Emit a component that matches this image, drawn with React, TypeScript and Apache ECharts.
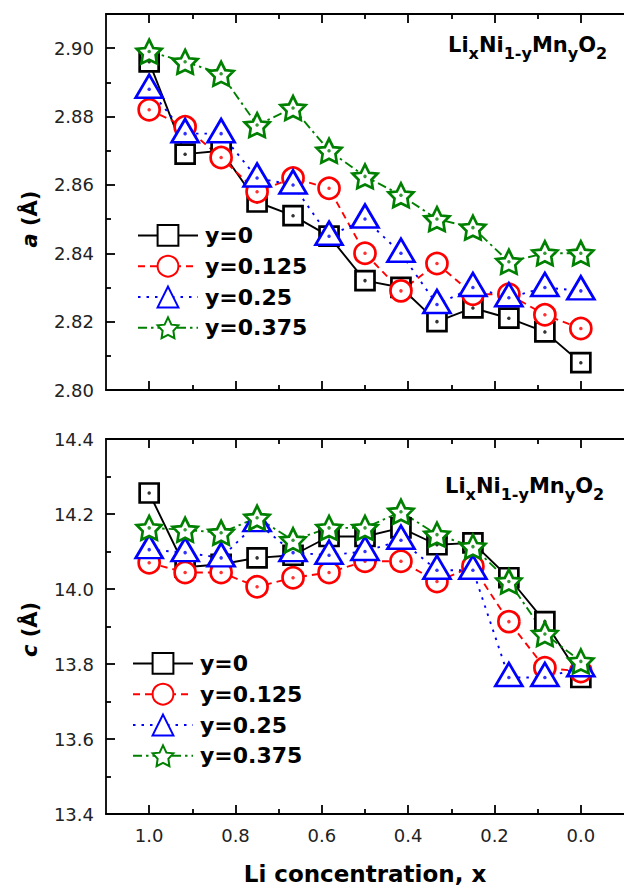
import React, { useEffect, useRef } from 'react';
import * as echarts from 'echarts';

// Li concentration x (1 - k/12)
const liConc = [1.0, 0.9167, 0.8333, 0.75, 0.6667, 0.5833, 0.5, 0.4167, 0.3333, 0.25, 0.1667, 0.0833, 0.0];

const seriesNames = ['y=0', 'y=0.125', 'y=0.25', 'y=0.375'];

// lattice parameter a (Å)
const aY0 = [2.896, 2.869, 2.870, 2.855, 2.851, 2.845, 2.832, 2.830, 2.820, 2.824, 2.821, 2.817, 2.808];
const aY0125 = [2.882, 2.877, 2.868, 2.858, 2.862, 2.859, 2.840, 2.829, 2.837, 2.828, 2.828, 2.822, 2.818];
const aY025 = [2.888, 2.875, 2.875, 2.862, 2.860, 2.845, 2.850, 2.840, 2.825, 2.830, 2.827, 2.830, 2.829];
const aY0375 = [2.899, 2.896, 2.8925, 2.8775, 2.8825, 2.870, 2.8625, 2.857, 2.850, 2.8475, 2.8375, 2.840, 2.840];

// lattice parameter c (Å)
const cY0 = [14.256, 14.058, 14.066, 14.083, 14.090, 14.140, 14.140, 14.163, 14.118, 14.123, 14.030, 13.913, 13.764];
const cY0125 = [14.070, 14.044, 14.044, 14.006, 14.030, 14.044, 14.074, 14.074, 14.020, 14.060, 13.913, 13.790, 13.780];
const cY025 = [14.105, 14.097, 14.083, 14.177, 14.097, 14.090, 14.100, 14.130, 14.050, 14.050, 13.764, 13.764, 13.790];
const cY0375 = [14.163, 14.158, 14.150, 14.190, 14.130, 14.163, 14.163, 14.206, 14.145, 14.113, 14.020, 13.880, 13.807];

// axis ticks
const xMajor = [0, 0.2, 0.4, 0.6, 0.8, 1.0];
const xMinor = [0.1, 0.3, 0.5, 0.7, 0.9];
const aMajor = [2.80, 2.82, 2.84, 2.86, 2.88, 2.90];
const aMinor = [2.81, 2.83, 2.85, 2.87, 2.89];
const cMajor = [13.4, 13.6, 13.8, 14.0, 14.2, 14.4];
const cMinor = [13.5, 13.7, 13.9, 14.1, 14.3];

const colors = ['#000000', '#ff0000', '#0000ff', '#008000'];
const STAR =
  'path://M50,0 L65.5,31.5 L97.55,34.55 L74.5,58 L79.39,90.45 L50,76 L20.61,90.45 L25.5,58 L2.45,34.55 L34.5,31.5 Z';
const symbols = ['rect', 'circle', 'triangle', STAR];
const symbolSizes: any[] = [19, 21, [27, 23], 25];
const symbolOffsets = [[0, 0], [0, 0], [0, -3], [0, 0]];
const lineTypes: any[] = ['solid', [7, 5], [2.5, 6], [9, 4, 2.5, 4]];

const FONT = 'DejaVu Sans';
const axisColor = '#000';
const FORMULA = '{m|Li}{s|x}{m|Ni}{s|1-y}{m|Mn}{s|y}{m|O}{s|2}';

const lineStyle = { color: axisColor, width: 1.8 };

function xAxes(gridIndex: number, withLabels: boolean) {
  const base = {
    type: 'value',
    gridIndex,
    min: -0.1,
    max: 1.1,
    inverse: true,
    splitLine: { show: false },
  };
  const main: any = {
    ...base,
    position: 'bottom',
    axisLine: { show: true, onZero: false, lineStyle },
    axisTick: { show: true, inside: true, length: 9, lineStyle, customValues: xMajor },
    axisLabel: {
      show: withLabels,
      customValues: xMajor,
      formatter: (v: number) => v.toFixed(1),
      margin: 12,
      fontFamily: FONT,
      fontSize: 18,
      color: '#222',
    },
  };
  if (withLabels) {
    main.name = 'Li concentration, x';
    main.nameLocation = 'middle';
    main.nameGap = 48;
    main.nameTextStyle = { fontFamily: FONT, fontSize: 23, fontWeight: 'bold', color: '#000' };
  }
  return [
    main,
    {
      ...base,
      position: 'bottom',
      axisLine: { show: false, onZero: false },
      axisTick: { show: true, inside: true, length: 5, lineStyle, customValues: xMinor },
      axisLabel: { show: false },
    },
    {
      ...base,
      position: 'top',
      axisLine: { show: true, onZero: false, lineStyle },
      axisTick: { show: true, inside: true, length: 9, lineStyle, customValues: xMajor },
      axisLabel: { show: false },
    },
    {
      ...base,
      position: 'top',
      axisLine: { show: false, onZero: false },
      axisTick: { show: true, inside: true, length: 5, lineStyle, customValues: xMinor },
      axisLabel: { show: false },
    },
  ];
}

function yAxes(gridIndex: number, min: number, max: number, major: number[], minor: number[],
  digits: number, letter: string, shift: number) {
  return [
    {
      type: 'value',
      gridIndex,
      min,
      max,
      position: 'left',
      splitLine: { show: false },
      axisLine: { show: true, onZero: false, lineStyle },
      axisTick: { show: true, inside: true, length: 9, lineStyle, customValues: major },
      axisLabel: {
        customValues: major,
        formatter: (v: number) => v.toFixed(digits),
        margin: 12,
        fontFamily: FONT,
        fontSize: 18,
        color: '#222',
      },
      name: `{i|${letter}} (Å)`,
      nameLocation: 'middle',
      nameRotate: 90,
      nameGap: 66,
      nameTextStyle: {
        fontFamily: FONT,
        fontSize: 21,
        fontWeight: 'bold',
        color: '#000',
        padding: [0, shift, 0, 0],
        rich: {
          i: { fontFamily: FONT, fontSize: 21, fontWeight: 'bold', fontStyle: 'italic', color: '#000' },
        },
      },
    },
    {
      type: 'value',
      gridIndex,
      min,
      max,
      position: 'left',
      splitLine: { show: false },
      axisLine: { show: false, onZero: false },
      axisTick: { show: true, inside: true, length: 5, lineStyle, customValues: minor },
      axisLabel: { show: false },
    },
  ];
}

function panelSeries(gridIndex: number, values: number[][]) {
  const out: any[] = [];
  values.forEach((vals, k) => {
    const data = liConc.map((x, i) => [x, vals[i]]);
    out.push({
      type: 'line',
      name: seriesNames[k],
      xAxisIndex: gridIndex * 4,
      yAxisIndex: gridIndex * 2,
      z: 3,
      data,
      symbol: symbols[k],
      symbolSize: symbolSizes[k],
      symbolOffset: symbolOffsets[k],
      symbolKeepAspect: true,
      showAllSymbol: true,
      itemStyle: { color: '#ffffff', borderColor: colors[k], borderWidth: 2.7 },
      lineStyle: { color: colors[k], width: 1.9, type: lineTypes[k] },
      emphasis: { disabled: true },
    });
    out.push({
      type: 'scatter',
      name: `dot-${gridIndex}-${k}`,
      xAxisIndex: gridIndex * 4,
      yAxisIndex: gridIndex * 2,
      z: 3,
      data,
      symbol: 'circle',
      symbolSize: 3.5,
      itemStyle: { color: colors[k] },
      silent: true,
    });
  });
  return out;
}

function legendAt(left: number, top: number) {
  return {
    data: seriesNames,
    orient: 'vertical',
    left,
    top,
    itemWidth: 60,
    itemHeight: 26,
    itemGap: 8,
    selectedMode: false,
    textStyle: {
      fontFamily: FONT,
      fontSize: 22,
      fontWeight: 'bold',
      color: '#000',
      padding: [0, 0, 0, 2],
    },
  };
}

const formulaRich = {
  m: { fontFamily: FONT, fontSize: 21, fontWeight: 'bold', lineHeight: 34, fill: '#000' },
  s: { fontFamily: FONT, fontSize: 16, fontWeight: 'bold', lineHeight: 16, verticalAlign: 'bottom', fill: '#000' },
};

const App: React.FC = () => {
  const chartRef = useRef<HTMLDivElement>(null);

  useEffect(() => {
    if (!chartRef.current) return;
    const chart = echarts.init(chartRef.current, null, { renderer: 'svg' });

    const option: any = {
      animation: false,
      backgroundColor: '#ffffff',
      grid: [
        { left: 106, top: 14, width: 523, height: 376 },
        { left: 106, top: 439, width: 523, height: 375 },
      ],
      xAxis: [...xAxes(0, false), ...xAxes(1, true)],
      yAxis: [
        ...yAxes(0, 2.80, 2.91, aMajor, aMinor, 2, 'a', 34),
        ...yAxes(1, 13.4, 14.4, cMajor, cMinor, 1, 'c', 6),
      ],
      legend: [legendAt(132, 219), legendAt(127, 647)],
      graphic: [
        { type: 'text', left: 448, top: 34, style: { text: FORMULA, rich: formulaRich, fill: '#000' } },
        { type: 'text', left: 445, top: 475, style: { text: FORMULA, rich: formulaRich, fill: '#000' } },
      ],
      series: [
        ...panelSeries(0, [aY0, aY0125, aY025, aY0375]),
        ...panelSeries(1, [cY0, cY0125, cY025, cY0375]),
      ],
    };

    chart.setOption(option);

    return () => {
      chart.dispose();
    };
  }, []);

  return (
    <div
      ref={chartRef}
      style={{ position: 'fixed', left: 0, top: 0, width: '624px', height: '887px', background: '#fff' }}
    ></div>
  );
};

export default App;
